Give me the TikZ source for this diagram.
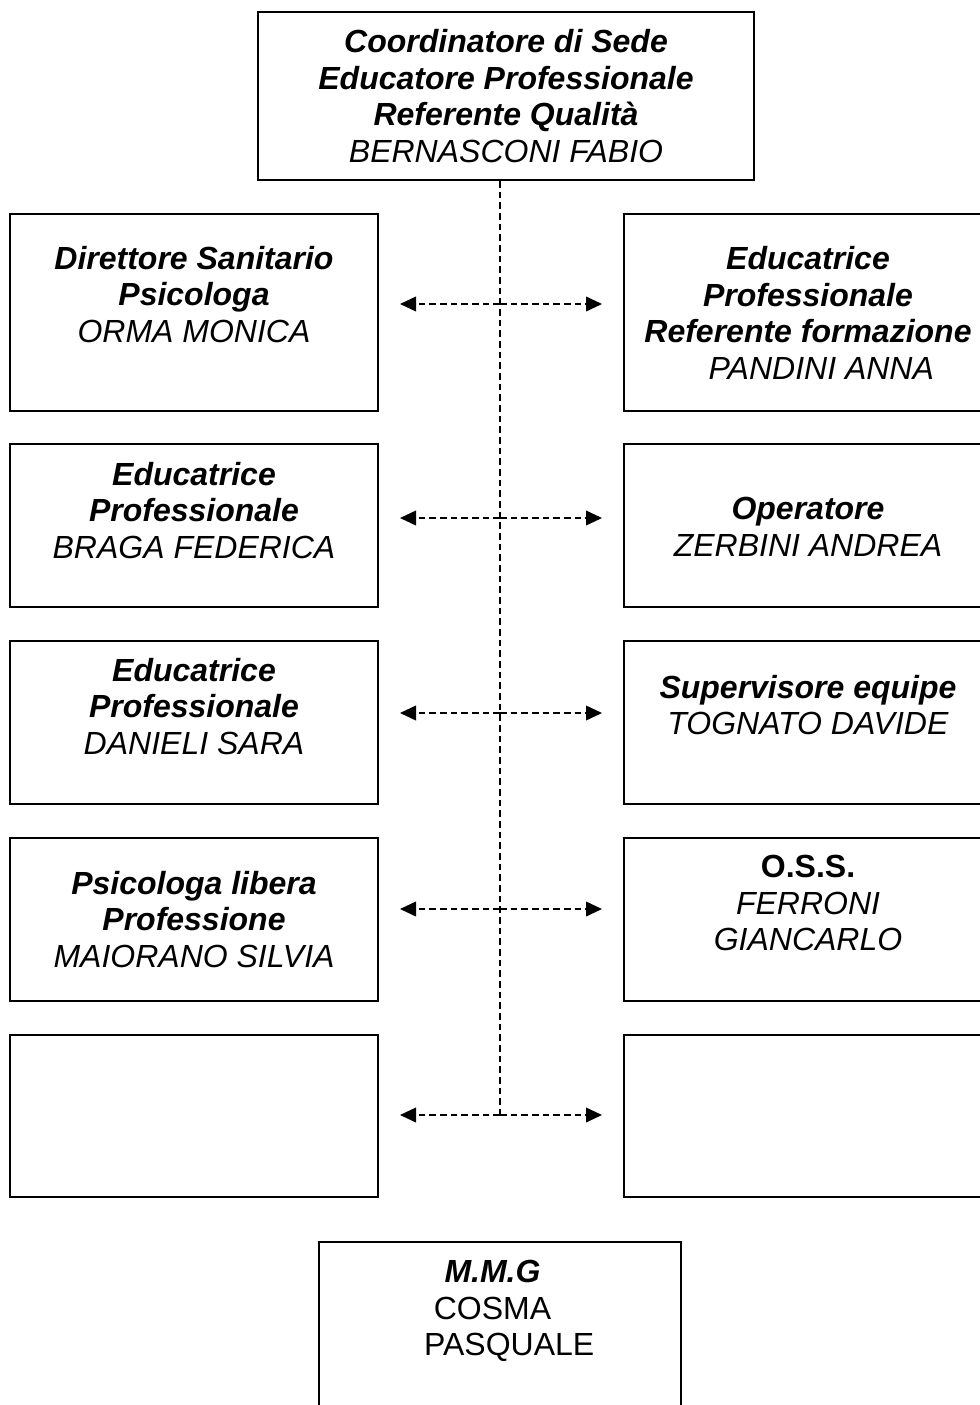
\documentclass[tikz,border=0pt]{standalone}
\usepackage{fontspec}
\setmainfont{Liberation Sans}
\usetikzlibrary{arrows.meta}
\newcommand\rolebi[1]{\textbf{\textit{#1}}}
\begin{document}
\begin{tikzpicture}[x=0.75pt,y=-0.75pt,
  box/.style={draw, line width=1.5pt, inner sep=0pt, rectangle},
  colbox/.style={box, minimum width=276pt},
  txt/.style={align=center, inner sep=0pt, font=\fontsize{24pt}{27.6pt}\selectfont},
  link/.style={line width=1.3pt, dash pattern=on 5pt off 3pt},
  arr/.style={link, -{Triangle[length=12pt,width=11pt]}}]
\useasboundingbox (0,0) rectangle (980,1405);
\clip (0,0) rectangle (980,1405);

% top box
\node[box, minimum width=372pt, minimum height=126pt] (top) at (506,96) {};
\node[txt] (ttop) at (506,96) {\rolebi{Coordinatore di Sede}\\\rolebi{Educatore Professionale}\\\rolebi{Referente Qualità}\\\textit{BERNASCONI FABIO}};

% left column
\node[colbox, minimum height=147.75pt] (l1) at (194,312.5) {};
\node[colbox, minimum height=122.25pt] (l2) at (194,525.5) {};
\node[colbox, minimum height=122.25pt] (l3) at (194,722.5) {};
\node[colbox, minimum height=122.25pt] (l4) at (194,919.5) {};
\node[colbox, minimum height=121.5pt] (l5) at (194,1116) {};

% right column
\node[colbox, minimum height=147.75pt] (r1) at (808,312.5) {};
\node[colbox, minimum height=122.25pt] (r2) at (808,525.5) {};
\node[colbox, minimum height=122.25pt] (r3) at (808,722.5) {};
\node[colbox, minimum height=122.25pt] (r4) at (808,919.5) {};
\node[colbox, minimum height=121.5pt] (r5) at (808,1116) {};

% bottom box
\node[box, minimum width=271.5pt, minimum height=163.5pt] (mmg) at (500,1351) {};

% texts
\node[txt] (tl1) at (194,294.5) {\rolebi{Direttore Sanitario}\\\rolebi{Psicologa}\\\textit{ORMA MONICA}};
\node[txt] (tl2) at (194,510.5) {\rolebi{Educatrice}\\\rolebi{Professionale}\\\textit{BRAGA FEDERICA}};
\node[txt] (tl3) at (194,706.5) {\rolebi{Educatrice}\\\rolebi{Professionale}\\\textit{DANIELI SARA}};
\node[txt] (tl4) at (194,919.5) {\rolebi{Psicologa libera}\\\rolebi{Professione}\\\textit{MAIORANO SILVIA}};

\node[txt] (tr1) at (808,313) {\rolebi{Educatrice}\\\rolebi{Professionale}\\\rolebi{Referente formazione}\\\hspace*{20pt}\textit{PANDINI ANNA}};
\node[txt] (tr2) at (808,526.5) {\rolebi{Operatore}\\\textit{ZERBINI ANDREA}};
\node[txt] (tr3) at (808,705) {\rolebi{Supervisore equipe}\\\textit{TOGNATO DAVIDE}};
\node[txt] (tr4) at (808,903) {\textbf{O.S.S.}\\\textit{FERRONI}\\\textit{GIANCARLO}};

\node[txt] (tmmg) at (492.5,1311) {\rolebi{M.M.G}\\COSMA\\\hspace*{25pt}PASQUALE};

% connectors
\coordinate (m1) at (500,304);
\coordinate (m2) at (500,518);
\coordinate (m3) at (500,713);
\coordinate (m4) at (500,909);
\coordinate (m5) at (500,1115);
\foreach \i in {1,...,5} {
  \coordinate (al\i) at ([xshift=-75pt]m\i);
  \coordinate (ar\i) at ([xshift=76.5pt]m\i);
}
\draw[link] (top.south -| m1) -- (m5);
\foreach \i in {1,...,5} {
  \draw[arr] (m\i) -- (al\i);
  \draw[arr] (m\i) -- (ar\i);
}
\end{tikzpicture}
\end{document}
